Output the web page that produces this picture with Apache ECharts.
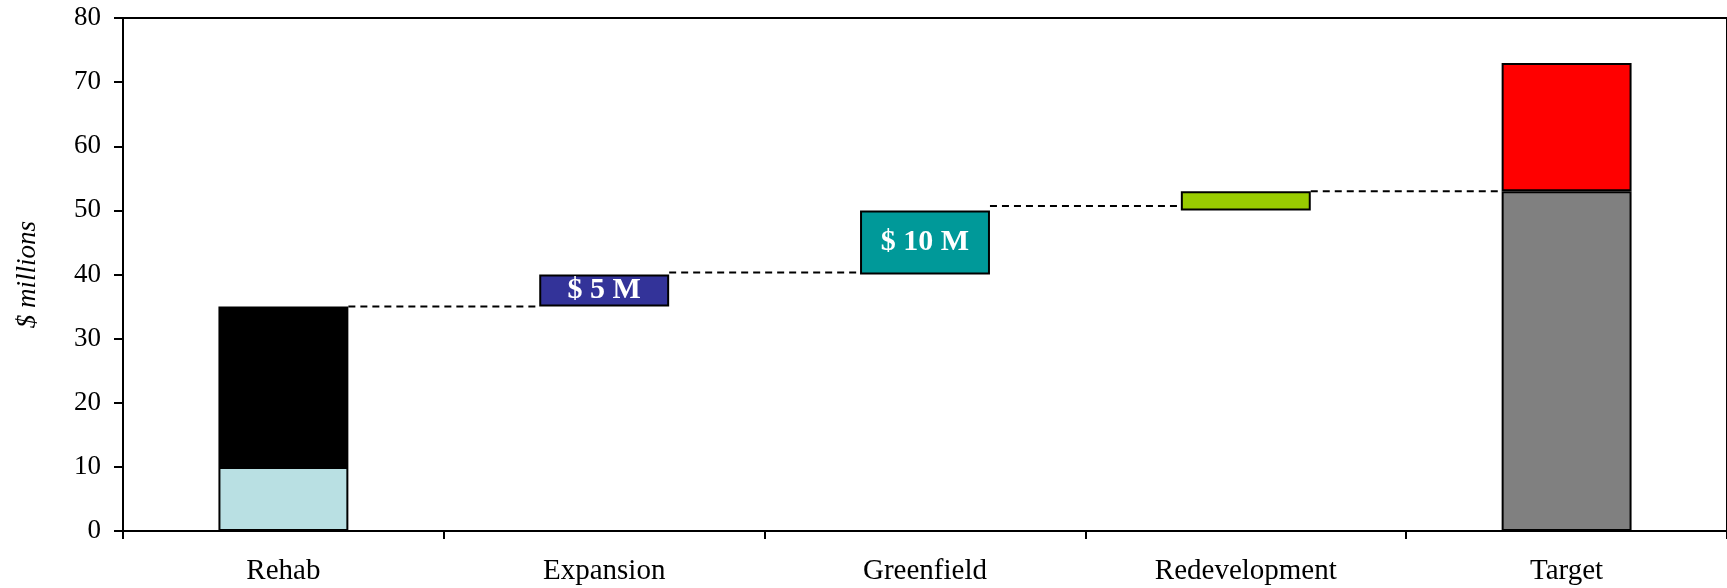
<!DOCTYPE html>
<html>
<head>
<meta charset="utf-8">
<title>Funding bridge</title>
<script src="https://cdn.jsdelivr.net/npm/echarts@6/dist/echarts.min.js"></script>
<style>
  html, body { margin: 0; padding: 0; background: #ffffff; }
  #chart { width: 1727px; height: 588px; }
</style>
</head>
<body>
<div id="chart"></div>
<script>
// Categories along the bridge
const categories = ['Rehab', 'Expansion', 'Greenfield', 'Redevelopment', 'Target'];

// Starting position: lower and upper parts of the Rehab bar ($ millions)
const rehabParts = [10, 25];
// Increments added by Expansion, Greenfield and Redevelopment ($ millions)
const stepValues = [5, 10, 3];
// Which increments carry a value label
const stepLabelShown = [true, true, false];
// Target bar: lower and upper parts ($ millions)
const targetParts = [53, 20];
// Levels of the dashed connectors between neighbouring bars ($ millions)
const connectorLevels = [35, 40.3, 50.7, 53];

const rehabColors = ['#B9E0E3', '#000000'];
const stepColors = ['#333399', '#009999', '#99CC00'];
const targetColors = ['#808080', '#FF0000'];

const BAR_FRACTION = 0.405;
const FONT = '"Liberation Serif", "DejaVu Serif", serif';

// Build stacked series: invisible base, lower part, floating step, upper part
const n = categories.length;
const baseData = new Array(n).fill('-');
const lowerData = new Array(n).fill('-');
const stepData = new Array(n).fill('-');
const upperData = new Array(n).fill('-');

const rehabTotal = rehabParts[0] + rehabParts[1];
baseData[0] = 0;
lowerData[0] = { value: rehabParts[0], itemStyle: { color: rehabColors[0] } };
upperData[0] = { value: rehabParts[1], itemStyle: { color: rehabColors[1] } };

let running = rehabTotal;
stepValues.forEach(function (v, i) {
  const idx = i + 1;
  baseData[idx] = running;
  stepData[idx] = {
    value: v,
    itemStyle: { color: stepColors[i] },
    label: { show: stepLabelShown[i] }
  };
  running += v;
});

baseData[n - 1] = 0;
lowerData[n - 1] = { value: targetParts[0], itemStyle: { color: targetColors[0] } };
upperData[n - 1] = { value: targetParts[1], itemStyle: { color: targetColors[1] } };

const barStyle = { borderColor: '#000000', borderWidth: 2 };

const chart = echarts.init(document.getElementById('chart'), null, { renderer: 'canvas' });

chart.setOption({
  backgroundColor: '#ffffff',
  animation: false,
  grid: {
    left: 123, right: -3, top: 18, bottom: 57,
    show: true, borderColor: '#000000', borderWidth: 2, backgroundColor: 'transparent'
  },
  xAxis: {
    type: 'category',
    data: categories,
    axisLine: { lineStyle: { color: '#000000', width: 2 } },
    axisTick: { show: true, length: 8, interval: 0, lineStyle: { color: '#000000', width: 2 } },
    axisLabel: { color: '#000000', fontFamily: FONT, fontSize: 29, margin: 26, interval: 0 },
    splitLine: { show: false }
  },
  yAxis: {
    type: 'value',
    min: 0, max: 80, interval: 10,
    name: '$ millions',
    nameLocation: 'middle',
    nameGap: 82,
    nameRotate: 90,
    nameTextStyle: { color: '#000000', fontFamily: FONT, fontStyle: 'italic', fontSize: 27 },
    axisLine: { show: true, lineStyle: { color: '#000000', width: 2 } },
    axisTick: { show: true, length: 9, lineStyle: { color: '#000000', width: 2 } },
    axisLabel: { color: '#000000', fontFamily: FONT, fontSize: 27, margin: 22 },
    splitLine: { show: false }
  },
  series: [
    {
      name: 'base', type: 'bar', stack: 'bridge', barWidth: (BAR_FRACTION * 100) + '%',
      itemStyle: { color: 'transparent', borderWidth: 0 },
      emphasis: { disabled: true },
      data: baseData
    },
    {
      name: 'lower', type: 'bar', stack: 'bridge', barWidth: (BAR_FRACTION * 100) + '%',
      itemStyle: barStyle,
      data: lowerData
    },
    {
      name: 'step', type: 'bar', stack: 'bridge', barWidth: (BAR_FRACTION * 100) + '%',
      itemStyle: barStyle,
      label: {
        show: true, position: 'inside', color: '#ffffff',
        fontFamily: FONT, fontWeight: 'bold', fontSize: 30,
        formatter: function (p) { return '$ ' + p.value + ' M'; }
      },
      data: stepData
    },
    {
      name: 'upper', type: 'bar', stack: 'bridge', barWidth: (BAR_FRACTION * 100) + '%',
      itemStyle: barStyle,
      data: upperData
    },
    {
      // dashed connectors from the right edge of one bar to the left edge of the next
      name: 'connectors', type: 'custom', z: 5,
      data: connectorLevels.map(function (lv, i) { return [i, lv]; }),
      renderItem: function (params, api) {
        const p = api.coord([api.value(0), api.value(1)]);
        const band = api.size([1, 0])[0];
        const half = band * BAR_FRACTION / 2;
        return {
          type: 'line',
          shape: { x1: p[0] + half, y1: p[1], x2: p[0] + band - half, y2: p[1] },
          style: { stroke: '#000000', lineWidth: 2, lineDash: [7, 5] }
        };
      }
    }
  ]
});
</script>
</body>
</html>
